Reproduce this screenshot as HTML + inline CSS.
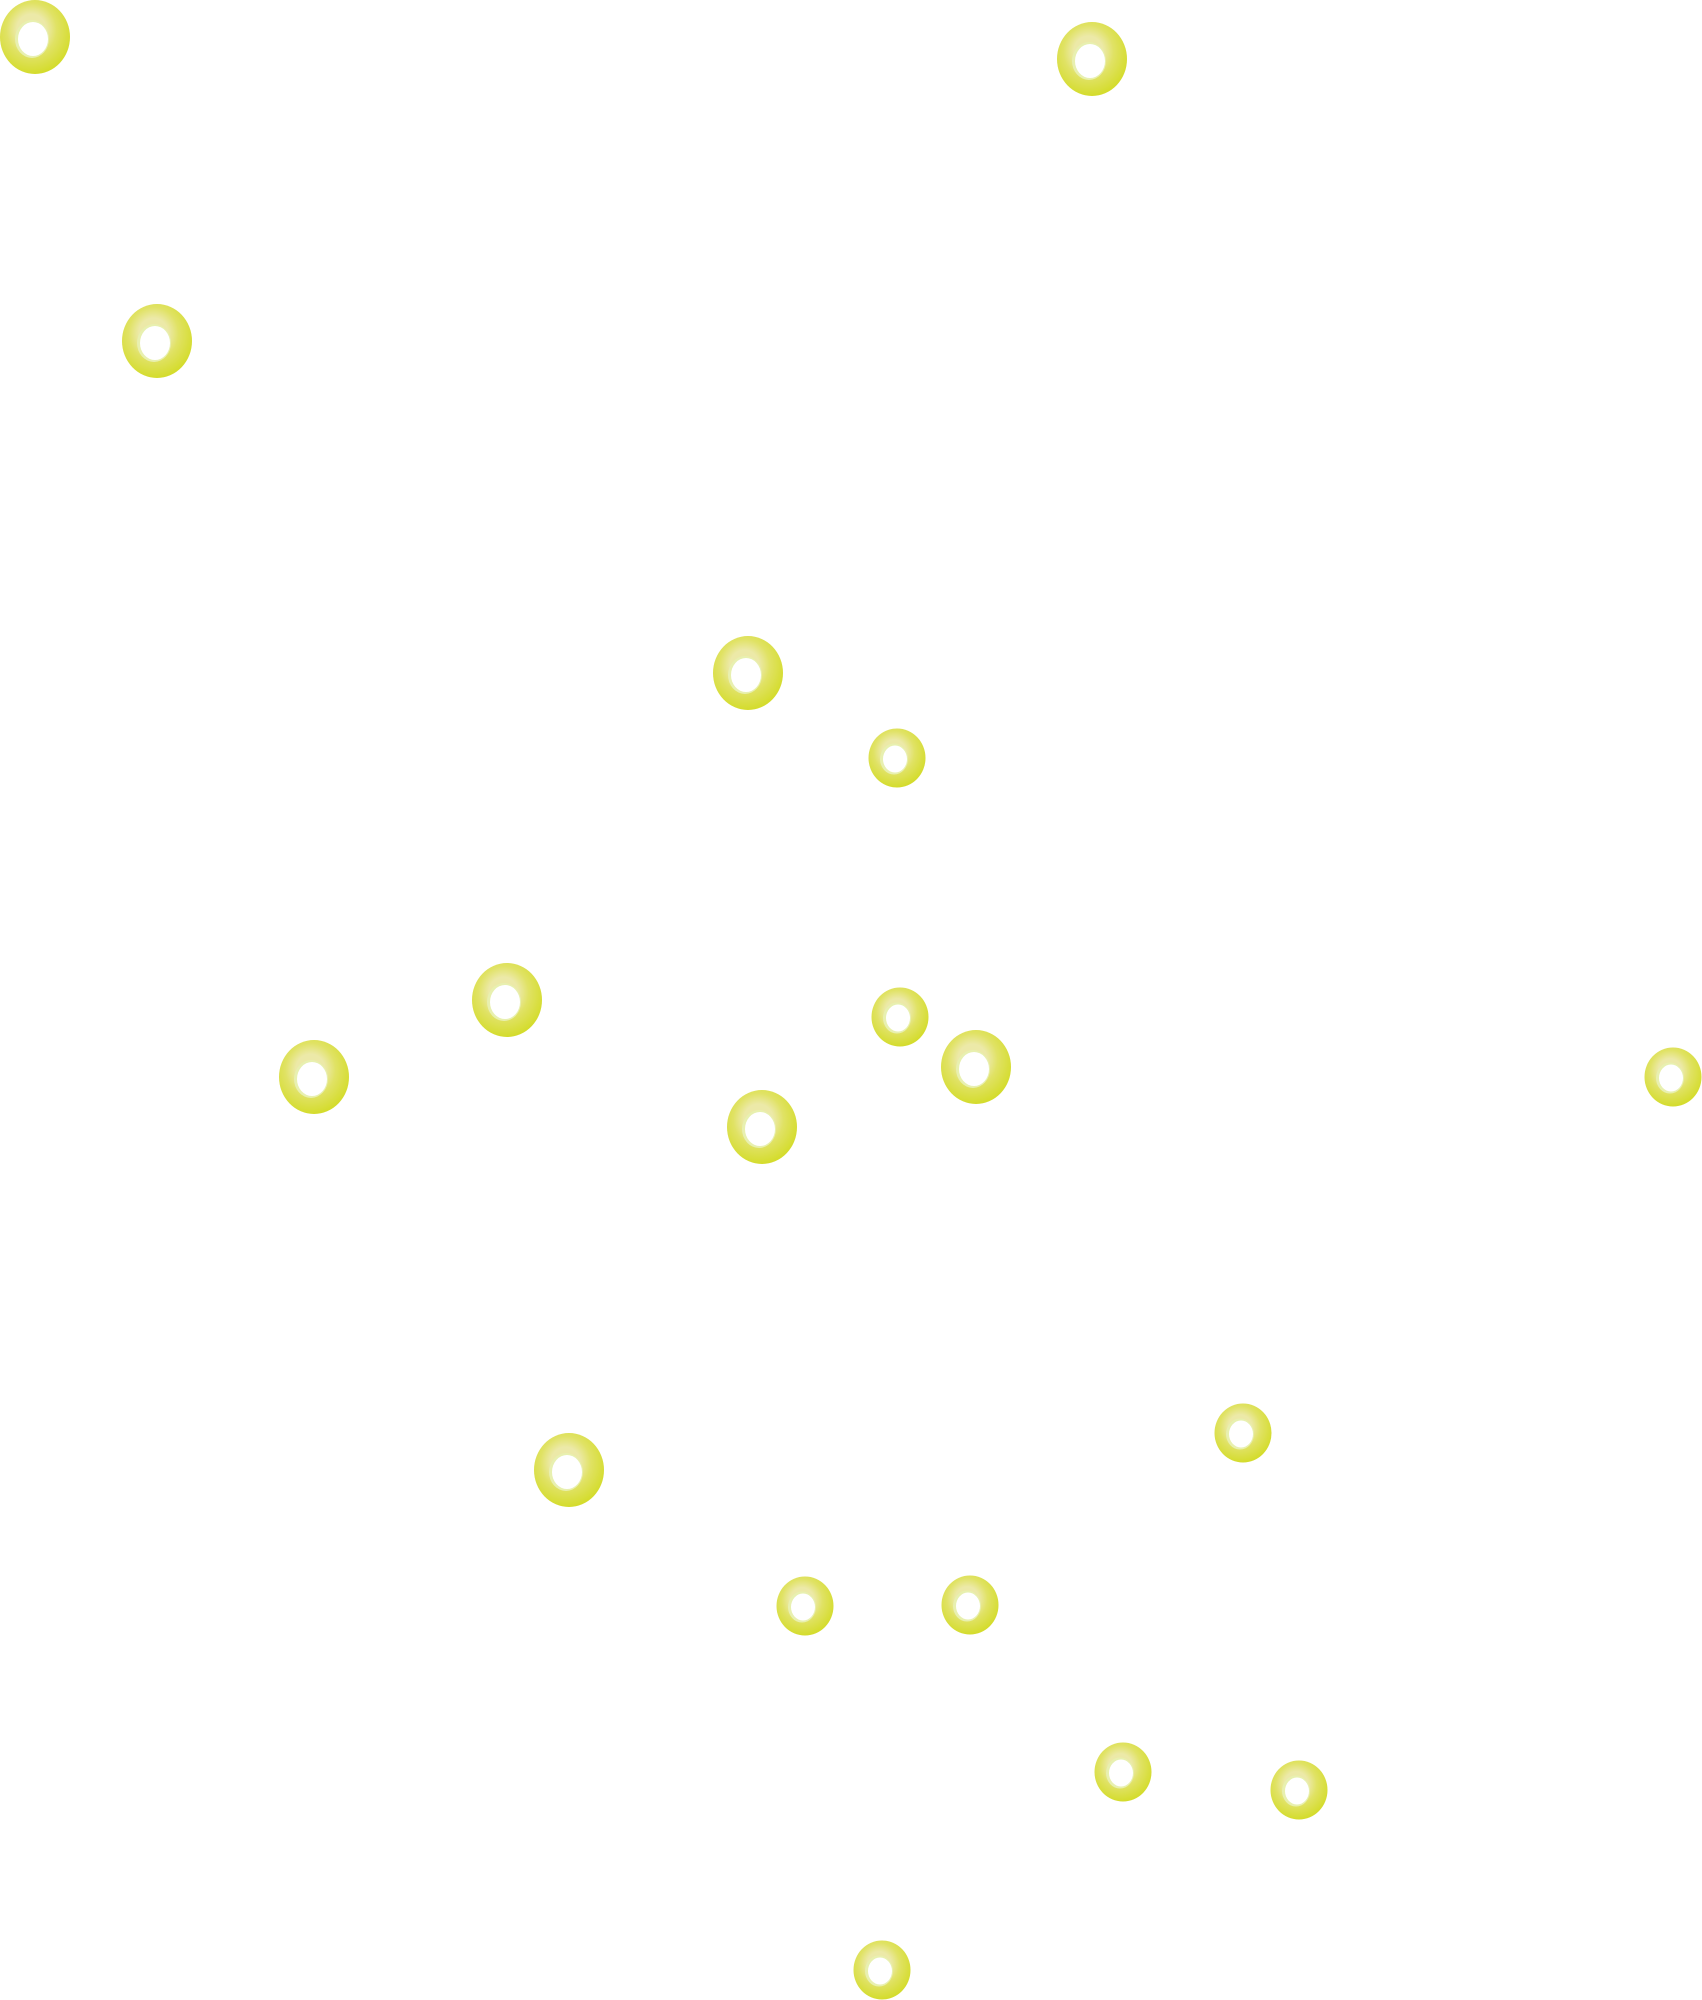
<!DOCTYPE html>
<html><head><meta charset="utf-8"><style>html,body{margin:0;padding:0;background:#fff;width:1702px;height:2000px;overflow:hidden}</style></head>
<body>
<svg width="1702" height="2000" viewBox="0 0 1702 2000" xmlns="http://www.w3.org/2000/svg">
<defs>
<radialGradient id="g" cx="0.45" cy="0.4" r="0.6">
<stop offset="0.35" stop-color="#ece9a8"/>
<stop offset="0.6" stop-color="#e0e264"/>
<stop offset="1" stop-color="#d4dc2c"/>
</radialGradient>
<g id="L"><ellipse cx="0" cy="0" rx="35" ry="37" fill="url(#g)"/><ellipse cx="-3" cy="2" rx="17" ry="19" fill="#e8f0b0"/><ellipse cx="-2" cy="2" rx="15" ry="17" fill="#fff"/></g>
<g id="S"><ellipse cx="0" cy="0" rx="28.5" ry="29.5" fill="url(#g)"/><ellipse cx="-3" cy="1" rx="14" ry="15.5" fill="#e8f0b0"/><ellipse cx="-2" cy="1" rx="12" ry="13.5" fill="#fff"/></g>
</defs>
<use href="#L" x="35" y="37"/>
<use href="#L" x="1092" y="59"/>
<use href="#L" x="157" y="341"/>
<use href="#L" x="748" y="673"/>
<use href="#S" x="897" y="758"/>
<use href="#L" x="507" y="1000"/>
<use href="#L" x="314" y="1077"/>
<use href="#S" x="900" y="1017"/>
<use href="#L" x="976" y="1067"/>
<use href="#L" x="762" y="1127"/>
<use href="#S" x="1673" y="1077"/>
<use href="#S" x="1243" y="1433"/>
<use href="#L" x="569" y="1470"/>
<use href="#S" x="805" y="1606"/>
<use href="#S" x="970" y="1605"/>
<use href="#S" x="1123" y="1772"/>
<use href="#S" x="1299" y="1790"/>
<use href="#S" x="882" y="1970"/>
</svg>
</body></html>
